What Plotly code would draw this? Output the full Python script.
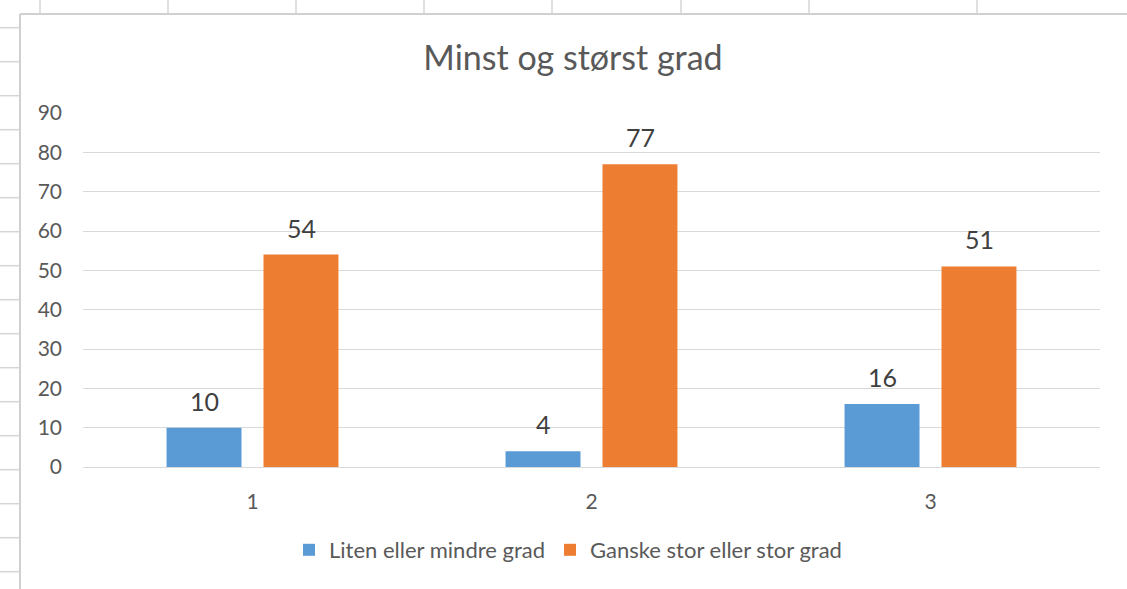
import plotly.graph_objects as go

# ---- data ----
categories = ["1", "2", "3"]
series_names = ["Liten eller mindre grad", "Ganske stor eller stor grad"]
liten = [10, 4, 16]
ganske = [54, 77, 51]
title_text = "Minst og størst grad"
y_ticks = [0, 10, 20, 30, 40, 50, 60, 70, 80, 90]

# ---- style ----
W, H = 1127, 589
L, R, T, B = 83, 27, 113, 122
FONT = "Lato"
TXT = "#595959"
BLUE = "#5B9BD5"
ORANGE = "#ED7D31"
GRID = "#D9D9D9"

pw = W - L - R
ph = H - T - B


def px2x(px):
    return (px - L) / pw


def px2y(py):
    return (H - B - py) / ph


fig = go.Figure()
fig.add_trace(go.Bar(x=categories, y=liten, name=series_names[0],
                     marker=dict(color=BLUE, line=dict(width=0))))
fig.add_trace(go.Bar(x=categories, y=ganske, name=series_names[1],
                     marker=dict(color=ORANGE, line=dict(width=0))))

annotations = []
for vals, shift in ((liten, -48.5), (ganske, 48.5)):
    for i, v in enumerate(vals):
        annotations.append(dict(x=i, y=v, xref="x", yref="y", text=str(v),
                                showarrow=False, xshift=shift, yshift=27,
                                yanchor="middle", xanchor="center",
                                font=dict(family=FONT, size=25, color="#404040")))

shapes = []
sheet = "#D6D6D6"
# spreadsheet column lines above the chart
for cx in [40, 168, 296, 424, 552, 681, 809, 977]:
    shapes.append(dict(type="line", xref="paper", yref="paper",
                       x0=px2x(cx), x1=px2x(cx), y0=px2y(0), y1=px2y(14),
                       line=dict(color=sheet, width=1.5)))
# spreadsheet row lines left of the chart
ry = 27.7
while ry < H:
    shapes.append(dict(type="line", xref="paper", yref="paper",
                       x0=px2x(0), x1=px2x(20), y0=px2y(ry), y1=px2y(ry),
                       line=dict(color=sheet, width=1.5)))
    ry += 34
# chart border (top and left)
shapes.append(dict(type="line", xref="paper", yref="paper",
                   x0=px2x(20), x1=px2x(W + 5), y0=px2y(14), y1=px2y(14),
                   line=dict(color="#D0D0D0", width=2)))
shapes.append(dict(type="line", xref="paper", yref="paper",
                   x0=px2x(20), x1=px2x(20), y0=px2y(14), y1=px2y(H + 5),
                   line=dict(color="#D0D0D0", width=2)))

fig.update_layout(
    width=W, height=H,
    margin=dict(l=L, r=R, t=T, b=B, pad=0, autoexpand=False),
    paper_bgcolor="white", plot_bgcolor="white",
    barmode="group", bargap=0.428, bargroupgap=0.227,
    title=dict(text=title_text, x=573 / W, xanchor="center",
               y=1 - 58 / H, yanchor="middle",
               font=dict(family=FONT, size=34, color=TXT)),
    font=dict(family=FONT, color=TXT),
    showlegend=True,
    legend=dict(orientation="h", x=px2x(568), xanchor="center",
                y=px2y(550), yanchor="middle",
                font=dict(family=FONT, size=22, color=TXT),
                itemsizing="constant", traceorder="normal"),
    xaxis=dict(type="category", showgrid=False, showline=False, zeroline=False,
               range=[-0.5, 2.5], automargin=False,
               ticks="", tickfont=dict(family=FONT, size=21, color=TXT),
               ticklabelstandoff=20),
    yaxis=dict(range=[0, 90], tickvals=y_ticks, showgrid=True, gridcolor=GRID,
               gridwidth=1.3, zeroline=True, zerolinecolor=GRID, zerolinewidth=1.3,
               showline=False, ticks="", automargin=False,
               tickfont=dict(family=FONT, size=21, color=TXT),
               ticklabelstandoff=20),
    annotations=annotations,
    shapes=shapes,
)

fig.write_html("out.html", config={"displayModeBar": False},
               post_script="document.body.style.margin='0';document.body.style.padding='0';")
